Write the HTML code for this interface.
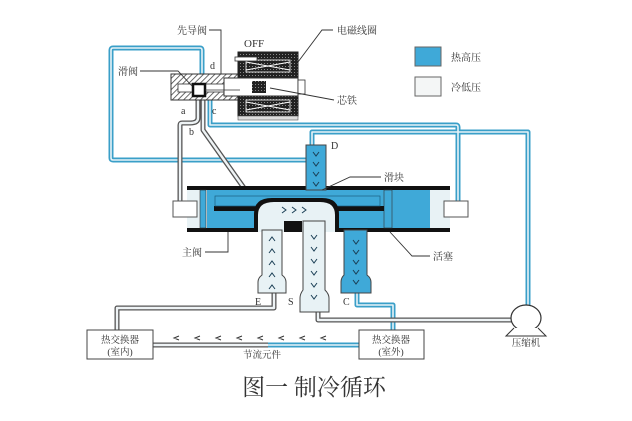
<!DOCTYPE html>
<html><head><meta charset="utf-8"><style>
html,body{margin:0;padding:0;background:#fff;}
svg{display:block}
text{font-family:"Liberation Serif","Noto Serif CJK SC","Noto Sans CJK SC",serif;fill:#333;}
</style></head><body>
<svg width="632" height="421" viewBox="0 0 632 421" xmlns="http://www.w3.org/2000/svg">
<rect width="632" height="421" fill="#fff"/>
<g fill="none" stroke-linejoin="round">
 <g stroke="#3a9fc8" stroke-width="5">
  <path d="M202 74 V50 Q202 48 200 48 H113 Q111 48 111 50 V158 Q111 160 113 160 H308"/>
  <path d="M210 100 V125 H456 Q458 125 458 127 V205"/>
  <path d="M312 145 V132 H528 V305"/>
  <path d="M357 293 V305 H393 V330"/>
  <path d="M268 345 H359"/>
 </g>
 <g stroke="#e8f3f7" stroke-width="1.6">
  <path d="M202 74 V50 Q202 48 200 48 H113 Q111 48 111 50 V158 Q111 160 113 160 H308"/>
  <path d="M210 100 V125 H456 Q458 125 458 127 V205"/>
  <path d="M312 145 V132 H528 V305"/>
  <path d="M357 293 V305 H393 V330"/>
  <path d="M268 345 H359"/>
 </g>
 <g stroke="#555" stroke-width="5">
  <path d="M198 100 V118 Q198 123 190 123 H182 Q180 123 180 125 V205"/>
  <path d="M203 100 V130 L244 188"/>
  <path d="M274 293 V308 H117 V330"/>
  <path d="M318 312 V320 H512"/>
  <path d="M153 345 H268"/>
 </g>
 <g stroke="#eef3f5" stroke-width="2.4">
  <path d="M198 100 V118 Q198 123 190 123 H182 Q180 123 180 125 V205"/>
  <path d="M203 100 V130 L244 188"/>
  <path d="M274 293 V308 H117 V330"/>
  <path d="M318 312 V320 H512"/>
  <path d="M153 345 H268"/>
 </g>
</g>
<defs>
 <pattern id="h" width="4" height="4" patternUnits="userSpaceOnUse" patternTransform="rotate(45)">
  <rect width="4" height="4" fill="#fff"/><line x1="0" y1="0" x2="0" y2="4" stroke="#444" stroke-width="1.6"/>
 </pattern>
 <pattern id="d" width="3" height="3" patternUnits="userSpaceOnUse">
  <rect width="3" height="3" fill="#222"/><rect width="1" height="1" fill="#888"/>
 </pattern>
</defs>
<rect x="171" y="74" width="69" height="26" fill="url(#h)" stroke="#333"/>
<rect x="178" y="84" width="62" height="8" fill="#fff" stroke="#333" stroke-width="0.8"/>
<rect x="193" y="84" width="12" height="12" fill="#fff" stroke="#111" stroke-width="2.5"/>
<rect x="238" y="52" width="60" height="64" fill="url(#d)" stroke="#222"/>
<rect x="238" y="116" width="60" height="4" fill="#ddd" stroke="#555" stroke-width="0.6"/>
<path d="M246 62 L290 70 M246 70 L290 62 M246 102 L290 110 M246 110 L290 102" stroke="#fff" stroke-width="1"/>
<rect x="246" y="60" width="44" height="12" fill="none" stroke="#fff" stroke-width="0.8"/>
<rect x="246" y="100" width="44" height="12" fill="none" stroke="#fff" stroke-width="0.8"/>
<rect x="235" y="57" width="22" height="4" fill="#fff" stroke="#333" stroke-width="0.8"/>
<rect x="224" y="78" width="74" height="18" fill="#fff" stroke="#333"/>
<rect x="252" y="81" width="14" height="12" fill="url(#d)"/>
<rect x="298" y="80" width="7" height="14" fill="#fff" stroke="#333" stroke-width="0.8"/>
<line x1="205" y1="90" x2="240" y2="90" stroke="#333" stroke-width="0.8"/>
<rect x="187" y="188" width="263" height="42" fill="#3fa9d8"/>
<rect x="187" y="186" width="263" height="4" fill="#111"/>
<rect x="187" y="228" width="263" height="4" fill="#111"/>
<rect x="187" y="190" width="20" height="38" fill="#e8f2f5"/>
<rect x="430" y="190" width="20" height="38" fill="#e8f2f5"/>
<rect x="200" y="190" width="6" height="38" fill="#3fa9d8" stroke="#333" stroke-width="0.6"/>
<rect x="384" y="190" width="8" height="38" fill="#3fa9d8" stroke="#333" stroke-width="0.6"/>
<rect x="214" y="206" width="170" height="5" fill="#111"/>
<rect x="215" y="196" width="165" height="10" fill="none" stroke="#1a5f80" stroke-width="0.7"/>
<rect x="173" y="201" width="24" height="16" fill="#fff" stroke="#555"/>
<rect x="444" y="201" width="24" height="16" fill="#fff" stroke="#555"/>
<path d="M254 232 V214 Q254 198 272 198 H322 Q339 198 339 214 V232 Z" fill="#111"/>
<path d="M258 232 V215 Q258 202 274 202 H320 Q335 202 335 215 V232 Z" fill="#e8f2f5"/>
<rect x="284" y="221" width="18" height="11" fill="#111"/>
<path d="M262 230 V275 Q258 278 258 282 V293 H286 V282 Q286 278 282 275 V230 Z" fill="#e8f2f5" stroke="#444"/>
<path d="M303 221 V290 Q300 294 300 298 V312 H329 V298 Q329 294 325 290 V221 Z" fill="#e8f2f5" stroke="#444"/>
<path d="M344 230 V275 Q341 278 341 282 V293 H371 V282 Q371 278 367 275 V230 Z" fill="#3fa9d8" stroke="#444"/>
<rect x="306" y="145" width="20" height="45" fill="#3fa9d8" stroke="#444"/>
<g stroke="#1b3f55" stroke-width="1" fill="none">
 <path d="M313 152 l3 4 l3 -4 M313 162 l3 4 l3 -4 M313 172 l3 4 l3 -4 M313 182 l3 4 l3 -4"/>
 <path d="M353 240 l3 4 l3 -4 M353 250 l3 4 l3 -4 M353 260 l3 4 l3 -4 M353 270 l3 4 l3 -4 M353 280 l3 4 l3 -4"/>
 <path d="M311 235 l3 4 l3 -4 M311 247 l3 4 l3 -4 M311 259 l3 4 l3 -4 M311 271 l3 4 l3 -4 M311 283 l3 4 l3 -4 M311 295 l3 4 l3 -4"/>
 <path d="M269 289 l3 -4 l3 4 M269 277 l3 -4 l3 4 M269 265 l3 -4 l3 4 M269 253 l3 -4 l3 4 M269 241 l3 -4 l3 4"/>
 <path d="M282 207 l4 3 l-4 3 M292 207 l4 3 l-4 3 M302 207 l4 3 l-4 3"/>
</g>
<g stroke="#333" stroke-width="1" fill="none">
 <path d="M179 336 l-5 2 l5 2 M200 336 l-5 2 l5 2 M221 336 l-5 2 l5 2 M242 336 l-5 2 l5 2 M263 336 l-5 2 l5 2 M284 336 l-5 2 l5 2 M305 336 l-5 2 l5 2 M326 336 l-5 2 l5 2"/>
</g>
<rect x="87" y="330" width="66" height="29" fill="#fff" stroke="#444"/>
<rect x="359" y="330" width="65" height="29" fill="#fff" stroke="#444"/>
<ellipse cx="526" cy="318" rx="15" ry="13" fill="#fff" stroke="#333" stroke-width="1.2"/>
<path d="M514 328 L506 336 H546 L538 328" fill="#fff" stroke="#333"/>
<rect x="415" y="47" width="26" height="19" fill="#3fa9d8" stroke="#666"/>
<rect x="415" y="77" width="26" height="19" fill="#f4f6f6" stroke="#666"/>
<g stroke="#333" stroke-width="0.9" fill="none">
 <path d="M209 30 H221 V74"/>
 <path d="M333 30 H322 L298 62"/>
 <path d="M140 71 H178 L192 86"/>
 <path d="M334 100 L270 88"/>
 <path d="M381 177 H350 L322 190"/>
 <path d="M205 252 H228 V232"/>
 <path d="M430 256 H412 L390 232"/>
</g>
<g font-size="10">
 <text x="177" y="34">先导阀</text>
 <text x="337" y="34">电磁线圈</text>
 <text x="244" y="47" font-size="11">OFF</text>
 <text x="210" y="69">d</text>
 <text x="118" y="75">滑阀</text>
 <text x="181" y="114">a</text>
 <text x="212" y="114">c</text>
 <text x="189" y="135">b</text>
 <text x="337" y="104">芯铁</text>
 <text x="331" y="149">D</text>
 <text x="384" y="181">滑块</text>
 <text x="182" y="256">主阀</text>
 <text x="433" y="260">活塞</text>
 <text x="255" y="305">E</text>
 <text x="288" y="305">S</text>
 <text x="343" y="305">C</text>
 <text x="451" y="61">热高压</text>
 <text x="451" y="91">冷低压</text>
 <text x="120" y="343" text-anchor="middle" font-size="9.5">热交换器</text>
 <text x="120" y="355" text-anchor="middle" font-size="9.5">(室内)</text>
 <text x="391" y="343" text-anchor="middle" font-size="9.5">热交换器</text>
 <text x="391" y="355" text-anchor="middle" font-size="9.5">(室外)</text>
 <text x="262" y="358" text-anchor="middle" font-size="9.5">节流元件</text>
 <text x="526" y="346" text-anchor="middle" font-size="9.5">压缩机</text>
</g>
<text x="314" y="395" text-anchor="middle" font-size="23" fill="#222">图一  制冷循环</text>
</svg>
</body></html>
